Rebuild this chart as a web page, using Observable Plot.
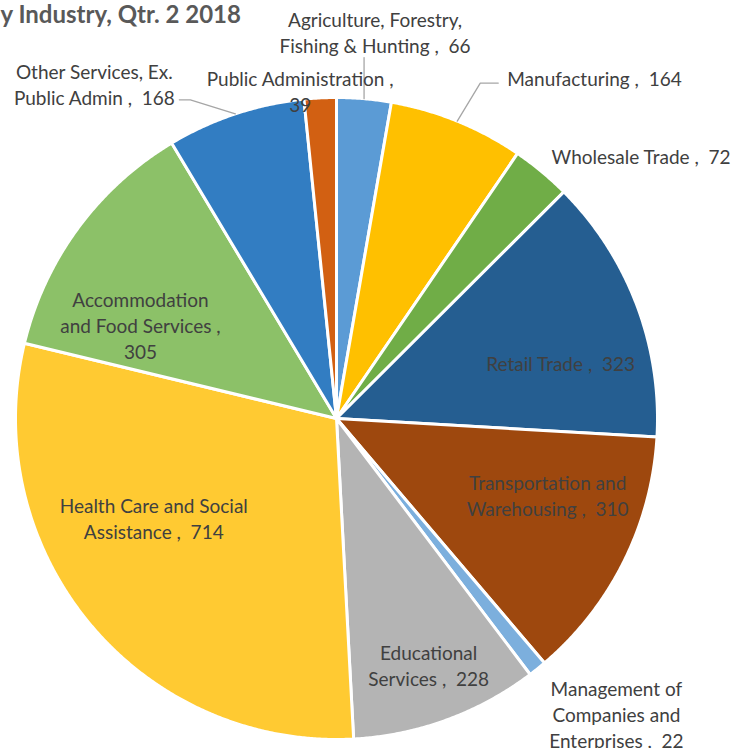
<!DOCTYPE html>
<html><head><meta charset="utf-8">
<script src="https://cdn.jsdelivr.net/npm/d3@7"></script>
<script src="https://cdn.jsdelivr.net/npm/@observablehq/plot@0.6"></script>
<style>
body{margin:0;background:#fff;}
svg text{white-space:pre;}
</style>
</head><body><div id="chart"></div>
<script>
// ---- data ----
const title = "y Industry, Qtr. 2 2018";
const categories = [
  "Agriculture, Forestry,\nFishing & Hunting",
  "Manufacturing",
  "Wholesale Trade",
  "Retail Trade",
  "Transportation and\nWarehousing",
  "Management of\nCompanies and\nEnterprises",
  "Educational\nServices",
  "Health Care and Social\nAssistance",
  "Accommodation\nand Food Services",
  "Other Services, Ex.\nPublic Admin",
  "Public Administration"
];
const values = [66, 164, 72, 323, 310, 22, 228, 714, 305, 168, 39];

// ---- styles / layout ----
const colors = ["#5B9BD5", "#FFC000", "#70AD47", "#255E91", "#9E480E", "#7CAFDD",
                "#B4B4B4", "#FFCA32", "#8CC168", "#327DC2", "#D26012"];
const W = 739, H = 748;
const cx = 336, cy = 418, R = 321;
// label placement relative to the point at radius k*R on the slice mid-angle
const labelLayout = [
  {k: 1,   ox: 11,   oy: -67, anchor: "middle", leader: [[0, -41]]},
  {k: 1,   ox: 50,   oy: -43, anchor: "start",  leader: [[23, -38], [41, -38]]},
  {k: 1,   ox: 10,   oy: -16, anchor: "start"},
  {k: 0.7, ox: 14,   oy: 24,  anchor: "middle"},
  {k: 0.7, ox: 10,   oy: -24, anchor: "middle"},
  {k: 1,   ox: 79,   oy: 45,  anchor: "middle"},
  {k: 0.7, ox: 15,   oy: 35,  anchor: "middle"},
  {k: 0.7, ox: -10,  oy: -45, anchor: "middle"},
  {k: 0.7, ox: -15,  oy: 39,  anchor: "middle", valueOwnLine: true},
  {k: 1,   ox: -141, oy: -30, anchor: "middle", leader: [[-45, -14], [-56, -14]]},
  {k: 1,   ox: -20,  oy: -7,  anchor: "middle", valueOwnLine: true}
];

// ---- geometry from d3.pie ----
const arcs = d3.pie().sort(null).value(d => d)(values);
const polys = [];
arcs.forEach((p, i) => {
  polys.push({i, x: cx, y: cy});
  const n = Math.max(2, Math.ceil((p.endAngle - p.startAngle) / 0.005));
  for (let j = 0; j <= n; j++) {
    const a = p.startAngle + (p.endAngle - p.startAngle) * j / n;
    polys.push({i, x: cx + R * Math.sin(a), y: cy - R * Math.cos(a)});
  }
});

const labels = [];
const leaders = [];
arcs.forEach((p, i) => {
  const L = labelLayout[i];
  const mid = (p.startAngle + p.endAngle) / 2;
  const ax = cx + L.k * R * Math.sin(mid), ay = cy - L.k * R * Math.cos(mid);
  const text = categories[i] + (L.valueOwnLine ? " ,\n" : " ,  ") + values[i];
  labels.push({x: ax + L.ox, y: ay + L.oy, text, anchor: L.anchor});
  if (L.leader) {
    leaders.push({i, x: ax, y: ay});
    L.leader.forEach(([dx, dy]) => leaders.push({i, x: ax + dx, y: ay + dy}));
  }
});

const textOpts = {x: "x", y: "y", text: "text", fill: "#404040", fontSize: 19, lineHeight: 26 / 19};

const chart = Plot.plot({
  width: W, height: H,
  margin: 0,
  style: {fontFamily: "Lato, 'Open Sans', sans-serif", background: "#fff"},
  x: {domain: [0, W], range: [0, W], axis: null},
  y: {domain: [0, H], range: [0, H], axis: null},
  color: {domain: d3.range(categories.length), range: colors},
  marks: [
    Plot.line(polys, {x: "x", y: "y", z: "i", fill: "i", stroke: "white", strokeWidth: 3,
                      strokeLinejoin: "round", curve: "linear-closed"}),
    Plot.line(leaders, {x: "x", y: "y", z: "i", stroke: "#A6A6A6", strokeWidth: 1.3}),
    Plot.text(labels.filter(d => d.anchor === "middle"), {...textOpts, textAnchor: "middle"}),
    Plot.text(labels.filter(d => d.anchor === "start"), {...textOpts, textAnchor: "start"}),
    Plot.text([title], {text: d => d, frameAnchor: "top-left", dx: 0, dy: 15, lineAnchor: "middle",
                        textAnchor: "start", fontWeight: "bold", fontSize: 24, fill: "#595959"})
  ]
});
document.getElementById("chart").appendChild(chart);
</script>
</body></html>
